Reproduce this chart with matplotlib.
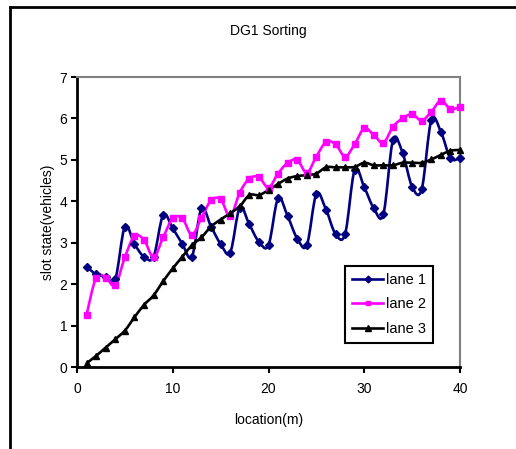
import numpy as np
import matplotlib
matplotlib.use('Agg')
import matplotlib.pyplot as plt
from matplotlib.path import Path
from matplotlib.patches import PathPatch
from matplotlib.lines import Line2D

plt.rcParams['font.family'] = ['Liberation Sans', 'DejaVu Sans']

# data
location = list(range(1, 41))
lane1 = [2.42, 2.24, 2.18, 2.12, 3.39, 2.97, 2.66, 2.66, 3.67, 3.35,
         2.97, 2.66, 3.83, 3.39, 2.97, 2.76, 3.85, 3.44, 3.02, 2.94,
         4.07, 3.64, 3.10, 2.94, 4.18, 3.80, 3.21, 3.21, 4.76, 4.34,
         3.83, 3.69, 5.48, 5.17, 4.35, 4.29, 5.96, 5.68, 5.04, 5.04]
lane2 = [1.26, 2.16, 2.16, 1.97, 2.65, 3.16, 3.07, 2.65, 3.13, 3.59,
         3.59, 3.19, 3.60, 4.02, 4.05, 3.64, 4.21, 4.55, 4.58, 4.33,
         4.67, 4.93, 5.00, 4.69, 5.08, 5.43, 5.38, 5.08, 5.38, 5.76,
         5.60, 5.41, 5.80, 6.00, 6.10, 5.95, 6.16, 6.43, 6.23, 6.28]
lane3 = [0.09, 0.27, 0.47, 0.67, 0.88, 1.20, 1.50, 1.73, 2.07, 2.38,
         2.66, 2.94, 3.13, 3.39, 3.56, 3.71, 3.88, 4.15, 4.15, 4.27,
         4.42, 4.55, 4.61, 4.63, 4.67, 4.82, 4.82, 4.82, 4.83, 4.93,
         4.87, 4.87, 4.87, 4.93, 4.93, 4.93, 5.01, 5.12, 5.22, 5.24]
labels = ['lane 1', 'lane 2', 'lane 3']
colors = ['#000080', '#FF00FF', '#000000']
markers = ['D', 's', '^']
msizes = [3.8, 3.8, 4.6]


def smooth_path(x, y):
    # excel-like smoothed line: cubic bezier segments through the points
    p = np.column_stack([x, y]).astype(float)
    n = len(p)
    verts = [p[0]]
    codes = [Path.MOVETO]
    for i in range(n - 1):
        p0 = p[i - 1] if i > 0 else p[i]
        p1, p2 = p[i], p[i + 1]
        p3 = p[i + 2] if i + 2 < n else p[i + 1]
        c1 = p1 + (p2 - p0) / 6.0
        c2 = p2 - (p3 - p1) / 6.0
        verts += [c1, c2, p2]
        codes += [Path.CURVE4] * 3
    return Path(verts, codes)


fig = plt.figure(figsize=(5.16, 4.49), dpi=100)
ax = fig.add_axes([0.1492, 0.1826, 0.7423, 0.6459])

handles = []
for ys, c, m, ms, lab in zip([lane1, lane2, lane3], colors, markers, msizes, labels):
    ax.add_patch(PathPatch(smooth_path(location, ys), facecolor='none',
                           edgecolor=c, lw=1.9, zorder=3))
    ax.plot(location, ys, linestyle='none', marker=m, ms=ms, color=c,
            mec=c, zorder=4, clip_on=False)
    handles.append(Line2D([], [], color=c, lw=1.9, marker=m, ms=ms * 0.9))

ax.set_xlim(0, 40)
ax.set_ylim(0, 7)
ax.set_xticks([0, 10, 20, 30, 40])
ax.set_yticks(range(0, 8))
ax.tick_params(direction='out', length=4, width=1.5, labelsize=10, pad=3)
ax.tick_params(axis='x', pad=7)
for s in ['left', 'bottom']:
    ax.spines[s].set_linewidth(2)
    ax.spines[s].set_color('black')
for s in ['top', 'right']:
    ax.spines[s].set_linewidth(1.5)
    ax.spines[s].set_color('#808080')

ax.set_title('DG1 Sorting', fontsize=10, pad=30)
ax.set_xlabel('location(m)', fontsize=10, labelpad=12)
ax.set_ylabel('slot state(vehicles)', fontsize=10, labelpad=3)

leg = ax.legend(handles, labels, loc='upper left',
                bbox_to_anchor=(0.6686, 0.4076), bbox_transform=fig.transFigure,
                borderaxespad=0, fancybox=False, edgecolor='black',
                fontsize=10.5, handlelength=2.1, handletextpad=0.2,
                labelspacing=0.7, borderpad=0.5, framealpha=1)
leg.get_frame().set_linewidth(1.5)

# chart area border (only top and left visible in the crop)
fig.add_artist(Line2D([10 / 516, 10 / 516], [0, 1 - 7 / 449], color='black',
                      lw=2, transform=fig.transFigure))
fig.add_artist(Line2D([10 / 516, 1], [1 - 7 / 449, 1 - 7 / 449], color='black',
                      lw=2, transform=fig.transFigure))

fig.savefig('out.png', dpi=100)
